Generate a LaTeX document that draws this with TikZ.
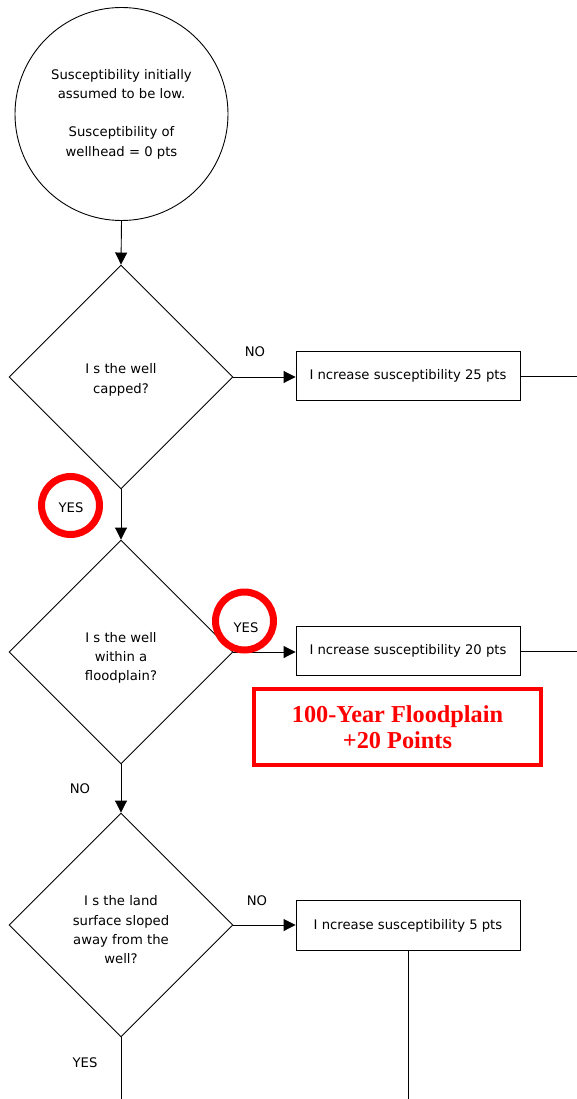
\documentclass[tikz,border=0pt]{standalone}
\usepackage{fontspec}
\setmainfont{DejaVu Sans}
\newfontfamily\redserif{Liberation Serif}
\usetikzlibrary{shapes.geometric,arrows.meta}
\definecolor{markred}{RGB}{255,0,0}
\begin{document}
\begin{tikzpicture}[x=1pt,y=-1pt,
  every node/.style={font=\fontsize{13.2}{19.3}\selectfont},
  line/.style={draw=black,line width=0.9pt},
  arr/.style={line,-{Triangle[length=12pt,width=12pt]}},
  start/.style={circle,line,minimum size=213pt,inner sep=0pt,align=center},
  decision/.style={diamond,line,minimum width=224pt,minimum height=224pt,inner sep=0pt},
  qtext/.style={inner sep=0pt,align=center},
  action/.style={rectangle,line,minimum width=224pt,minimum height=49.5pt,inner sep=0pt,align=center},
  lbl/.style={inner sep=0pt},
  ring/.style={circle,draw=markred,line width=7pt,minimum size=58pt,inner sep=0pt},
  redbox/.style={rectangle,draw=markred,line width=4pt,minimum width=287pt,minimum height=76pt,inner sep=0pt,align=center,text=markred,font=\redserif\bfseries\fontsize{24.3}{27.5}\selectfont}
]
\useasboundingbox (0,0) rectangle (577,1099);
\node[start] (s) at (121.5,114) {Susceptibility initially\\assumed to be low.\\[19.3pt]Susceptibility of\\wellhead = 0 pts};
\node[decision] (d1) at (121,377) {};
\node[qtext] (d1t) at (121,380) {I s the well\\capped?};
\node[decision] (d2) at (121,652) {};
\node[qtext] (d2t) at (121,658) {I s the well\\within a\\floodplain?};
\node[decision] (d3) at (121,925) {};
\node[qtext] (d3t) at (121,930) {I s the land\\surface sloped\\away from the\\well?};
\node[action] (b1) at (408,376) {I ncrease susceptibility 25 pts};
\node[action] (b2) at (408,651) {I ncrease susceptibility 20 pts};
\node[action] (b3) at (408,925.5) {I ncrease susceptibility 5 pts};
\node[redbox] (rb) at (397.5,727) {\raisebox{-1.5pt}{100-Year Floodplain}\\+20 Points};
\coordinate (e1) at (577,376);
\coordinate (e2) at (577,651);
\coordinate (e3) at (408,1099);
\coordinate (e4) at (121,1099);
\draw[arr] (s.south) -- (d1.north);
\draw[arr] (d1.east) -- (d1.east -| b1.west);
\draw[arr] (d1.south) -- (d2.north);
\draw[arr] (d2.east) -- (d2.east -| b2.west);
\draw[arr] (d2.south) -- (d3.north);
\draw[arr] (d3.east) -- (d3.east -| b3.west);
\draw[line] (b1.east) -- (e1);
\draw[line] (b2.east) -- (e2);
\draw[line] (b3.south) -- (e3);
\draw[line] (d3.south) -- (e4);
\node[lbl] (n1) at (255,352) {NO};
\node[ring] (r1) at (70.5,505.5) {};
\node[lbl] (y1) at (71,507.5) {YES};
\node[ring] (r2) at (244.5,621) {};
\node[lbl] (y2) at (246,627.5) {YES};
\node[lbl] (n2) at (80,788.5) {NO};
\node[lbl] (n3) at (257,901) {NO};
\node[lbl] (y3) at (85,1063) {YES};
\end{tikzpicture}
\end{document}
